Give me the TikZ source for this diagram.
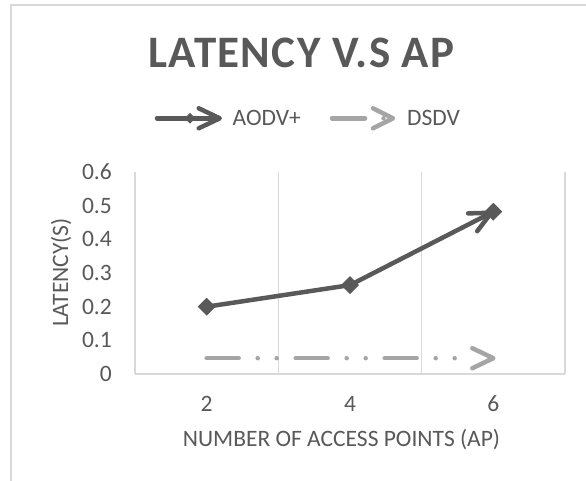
\documentclass[tikz,border=0pt]{standalone}
\usepackage{fontspec}
\setmainfont{Carlito}
\usetikzlibrary{arrows.meta,shapes.geometric,calc}
\definecolor{txt}{HTML}{595959}
\definecolor{serA}{HTML}{595959}
\definecolor{serB}{HTML}{A5A5A5}
\definecolor{grid}{HTML}{D9D9D9}
\tikzset{
  lab/.style={text=txt, font=\fontsize{23.5}{28}\selectfont, inner sep=0pt},
  ttl/.style={text=txt, font=\fontsize{45}{50}\selectfont\bfseries\addfontfeature{LetterSpace=3}, inner sep=0pt},
  gridline/.style={draw=grid, line width=1.3pt},
  aodv/.style={draw=serA, line width=4.5pt, line cap=round, line join=round},
  dsdv/.style={draw=serB, line width=4.5pt, line cap=round, line join=round},
  dsdvpat/.style={dash pattern=on 32pt off 19pt on 0pt off 19pt on 0pt off 19pt},
  mk/.style={shape=diamond, fill=serA, draw=none, inner sep=0pt, minimum size=18pt},
  mksmall/.style={shape=diamond, fill=serA, draw=none, inner sep=0pt, minimum size=11pt},
  tipA/.style={-{Straight Barb[length=21pt,width=20pt,round]}},
}
\begin{document}
\begin{tikzpicture}[x=1pt,y=-1pt]
\useasboundingbox (0,0) rectangle (586,480);
\fill[white] (0,0) rectangle (586,480);
% chart frame (continues beyond the picture)
\draw[gridline] (11,481) -- (11,5) -- (587,5);
% title
\node[ttl, anchor=base] (title) at (301.5,67) {LATENCY V.S AP};
% legend
\coordinate (la1) at (157,118.3);
\coordinate (la2) at (222,118.3);
\draw[aodv, tipA] (la1) -- (la2);
\node[mksmall] (lm) at (190,118.3) {};
\node[lab, anchor=base west] (l1) at (232.5,125.5) {AODV+};
\coordinate (lb1) at (332,118.3);
\coordinate (lb2) at (365,118.3);
\coordinate (lbt) at (393,118.3);
\draw[dsdv] (lb1) -- (lb2);
\fill[serB] (383.5,118.3) circle (2.2pt);
\draw[dsdv] ($(lbt)+(-20,-10)$) -- (lbt) -- ($(lbt)+(-20,10)$);
\node[lab, anchor=base west] (l2) at (407,125.5) {DSDV};
% plot grid
\foreach \gx in {135,278.33,421.67,565}{\draw[gridline] (\gx,172) -- (\gx,374);}
\draw[gridline] (135,374) -- (565,374);
% y tick labels
\foreach \v/\gy in {0/374,0.1/340.33,0.2/306.67,0.3/273,0.4/239.33,0.5/205.67,0.6/172}{
  \node[lab, anchor=base east] at (112,\gy+7.4) {\v};}
% x tick labels
\node[lab, anchor=base] (x2) at (206.67,411) {2};
\node[lab, anchor=base] (x4) at (350,411) {4};
\node[lab, anchor=base] (x6) at (493.33,411) {6};
% axis titles
\node[lab, anchor=base] (xt) at (341.5,446) {NUMBER OF ACCESS POINTS (AP)};
\node[lab, anchor=base, rotate=90] (yt) at (68,272.5) {LATENCY(S)};
% DSDV series
\coordinate (d2) at (206.67,358.2);
\coordinate (de) at (466,358.2);
\coordinate (d6) at (493.33,358.2);
\draw[dsdv, dsdvpat] (d2) -- (de);
\draw[dsdv] ($(d6)+(-21,-10)$) -- (d6) -- ($(d6)+(-21,10)$);
% AODV+ series
\node[mk] (m2) at (206.67,306.7) {};
\node[mk] (m4) at (350,285.1) {};
\node[mk] (m6) at (493.33,211.7) {};
\draw[aodv, tipA] (m2.center) -- (m4.center) -- (m6.center);
\end{tikzpicture}
\end{document}
